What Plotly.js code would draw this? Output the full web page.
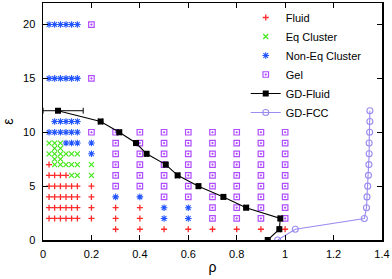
<!DOCTYPE html>
<html>
<head>
<meta charset="utf-8">
<script src="https://cdn.plot.ly/plotly-3.0.1.min.js"></script>
<style>html,body{margin:0;padding:0;background:#fff;}#chart{width:392px;height:279px;}</style>
</head>
<body>
<div id="chart"></div>
<script>
// ---- Data ----
var fluidRho = [0.025,
  0.025,0.048,0.072,0.095,
  0.025,0.048,0.072,0.095,0.118,0.142,0.2,
  0.025,0.048,0.072,0.095,0.118,0.142,0.2,
  0.025,0.048,0.072,0.095,0.118,0.142,0.2,0.3,0.4,
  0.025,0.048,0.072,0.095,0.118,0.142,0.2,0.3,0.4,
  0.3,0.4,0.5,0.6,0.7,0.8,0.9,1.0];
var fluidEps = [7,
  6,6,6,6,
  5,5,5,5,5,5,5,
  4,4,4,4,4,4,4,
  3,3,3,3,3,3,3,3,3,
  2,2,2,2,2,2,2,2,2,
  1,1,1,1,1,1,1,1];

var eqRho = [0.025,0.048,0.072,
  0.048,0.072,
  0.025,0.048,0.072,0.095,0.118,0.142,
  0.048,0.072,
  0.048,0.072,0.095,0.118,0.142,0.2,
  0.118,0.142,0.2];
var eqEps = [9,9,9,
  8.5,8.5,
  8,8,8,8,8,8,
  7.5,7.5,
  7,7,7,7,7,7,
  6,6,6];

var neqRho = [0.025,0.048,0.072,0.095,0.118,0.142,
  0.025,0.048,0.072,0.095,0.118,0.142,
  0.048,0.072,0.095,0.118,0.142,
  0.025,0.048,0.072,0.095,0.118,0.142,
  0.095,0.118,0.142,0.2,
  0.2,
  0.3,0.4,
  0.5,0.6,
  0.5,0.6];
var neqEps = [20,20,20,20,20,20,
  15,15,15,15,15,15,
  11,11,11,11,11,
  10,10,10,10,10,10,
  9,9,9,9,
  8,
  4,4,
  3,3,
  2,2];

var gelRho = [0.2,0.2,0.2,
  0.3,0.3,0.3,0.3,0.3,0.3,
  0.4,0.4,0.4,0.4,0.4,0.4,
  0.5,0.5,0.5,0.5,0.5,0.5,0.5,
  0.6,0.6,0.6,0.6,0.6,0.6,0.6,
  0.7,0.7,0.7,0.7,0.7,0.7,0.7,0.7,0.7,
  0.8,0.8,0.8,0.8,0.8,0.8,0.8,0.8,0.8,
  0.9,0.9,0.9,0.9,0.9,0.9,0.9,0.9,0.9,
  1.0,1.0,1.0,1.0,1.0,1.0,1.0,1.0,1.0];
var gelEps = [20,15,10,
  10,9,8,7,6,5,
  10,9,8,7,6,5,
  10,9,8,7,6,5,4,
  10,9,8,7,6,5,4,
  10,9,8,7,6,5,4,3,2,
  10,9,8,7,6,5,4,3,2,
  10,9,8,7,6,5,4,3,2,
  10,9,8,7,6,5,4,3,2];

var gdFluidRho = [0.062,0.238,0.315,0.384,0.428,0.507,0.556,0.642,0.745,0.839,0.980,0.976,0.928];
var gdFluidEps = [12,11,10,9,8,7,6,5,4,3,2,1,0];
var gdFluidErrPlus  = [0.104,0.008,0.008,0.006,0.005,0.006,0.008,0.006,0.008,0.008,0.006,0.005,0.005];
var gdFluidErrMinus = [0.062,0.008,0.008,0.006,0.005,0.006,0.008,0.006,0.008,0.008,0.006,0.005,0.005];

var gdFccRho = [0.969,1.042,1.327,1.336,1.338,1.341,1.344,1.346,1.347,1.347,1.349,1.350,1.350];
var gdFccEps = [0,1,2,3,4,5,6,7,8,9,10,11,12];

var xTicks = [0,0.2,0.4,0.6,0.8,1,1.2,1.4];
var xTickText = ['0','0.2','0.4','0.6','0.8','1','1.2','1.4'];
var yTicks = [0,5,10,15,20];
var yTickText = ['0','5','10','15','20'];

// ---- Traces ----
var FONT = 'Liberation Sans, Arial, Helvetica, sans-serif';
var traces = [
  {x: fluidRho, y: fluidEps, name: 'Fluid', mode: 'markers', type: 'scatter',
   marker: {symbol: 'cross-thin', size: 4.3, color: '#ff2a2a', line: {color: '#ff2a2a', width: 1.3}}},
  {x: eqRho, y: eqEps, name: 'Eq Cluster', mode: 'markers', type: 'scatter',
   marker: {symbol: 'x-thin', size: 5, color: '#44e61a', line: {color: '#44e61a', width: 1.2}}},
  {x: neqRho, y: neqEps, name: 'Non-Eq Cluster', mode: 'markers', type: 'scatter',
   marker: {symbol: 'asterisk-open', size: 5.5, color: '#2255ff', line: {color: '#2255ff', width: 1.1}}},
  {x: gelRho, y: gelEps, name: 'Gel', mode: 'markers', type: 'scatter',
   marker: {symbol: 'square-open-dot', size: 5.5, color: '#b04cff', line: {color: '#b04cff', width: 1.2}}},
  {x: gdFluidRho, y: gdFluidEps, name: 'GD-Fluid', mode: 'lines+markers', type: 'scatter',
   line: {color: '#000000', width: 1.1},
   marker: {symbol: 'square', size: 6, color: '#000000'},
   error_x: {type: 'data', symmetric: false, array: gdFluidErrPlus, arrayminus: gdFluidErrMinus,
             color: '#000000', thickness: 1, width: 3}},
  {x: gdFccRho, y: gdFccEps, name: 'GD-FCC', mode: 'lines+markers', type: 'scatter',
   line: {color: '#9a8cf0', width: 1.1},
   marker: {symbol: 'circle-open', size: 6, color: '#9a8cf0', line: {color: '#9a8cf0', width: 1.1}}}
];

var axisCommon = {
  showline: true, linecolor: '#000', linewidth: 1.5, mirror: 'allticks',
  ticks: 'inside', ticklen: 5, tickwidth: 1.2, tickcolor: '#000',
  showgrid: false, zeroline: false,
  tickfont: {family: FONT, size: 11, color: '#000'}
};

var layout = {
  width: 392, height: 279,
  margin: {l: 43, r: 10, t: 3, b: 39, pad: 0},
  paper_bgcolor: '#fff', plot_bgcolor: '#fff',
  font: {family: FONT, size: 11, color: '#000'},
  xaxis: Object.assign({}, axisCommon, {
    range: [0, 1.4], tickmode: 'array', tickvals: xTicks, ticktext: xTickText,
    ticklabelstandoff: 3,
    title: {text: 'ρ', font: {family: FONT, size: 14, color: '#000'}, standoff: 3}
  }),
  yaxis: Object.assign({}, axisCommon, {
    range: [0, 22], tickmode: 'array', tickvals: yTicks, ticktext: yTickText,
    ticklabelstandoff: 4,
    title: {text: 'ε', font: {family: FONT, size: 14, color: '#000'}, standoff: 12}
  }),
  showlegend: true,
  legend: {x: 0.955, xanchor: 'right', y: 1, yanchor: 'top',
           bgcolor: 'rgba(0,0,0,0)', borderwidth: 0,
           font: {family: FONT, size: 11, color: '#000'}}
};

Plotly.newPlot('chart', traces, layout, {displayModeBar: false, staticPlot: true});
</script>
</body>
</html>
